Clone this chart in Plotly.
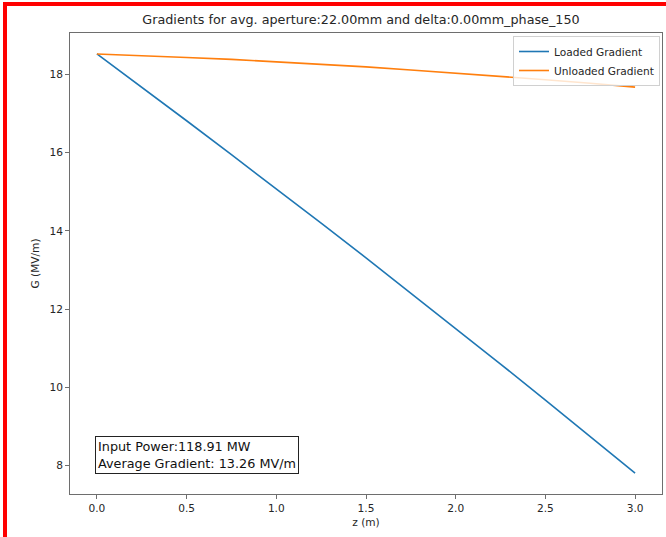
import plotly.graph_objects as go

# Position along the structure (m)
z = [0.0, 0.25, 0.5, 0.75, 1.0, 1.25, 1.5, 1.75, 2.0, 2.25, 2.5, 2.75, 3.0]

# Accelerating gradient with and without beam loading (MV/m)
loaded_gradient = [18.53, 17.68, 16.82, 15.95, 15.08, 14.20, 13.31,
                   12.41, 11.50, 10.59, 9.67, 8.74, 7.80]
unloaded_gradient = [18.53, 18.49, 18.44, 18.39, 18.33, 18.26, 18.20,
                     18.12, 18.04, 17.96, 17.87, 17.78, 17.68]

input_power_mw = 118.91
average_gradient = 13.26
aperture_mm = 22.00
delta_mm = 0.00
phase = 150

x_ticks = [0.0, 0.5, 1.0, 1.5, 2.0, 2.5, 3.0]
y_ticks = [8, 10, 12, 14, 16, 18]

W, H = 666, 537
L, R, T, B = 70, 4, 33, 43
pw, ph = W - L - R, H - T - B


def px(x):
    return (x - L) / pw


def py(y):
    return (H - B - y) / ph


FONT = "DejaVu Sans"
AXIS_COL = "#6e6e6e"
TEXT_COL = "#262626"
SMALL = 10.6

fig = go.Figure()
fig.add_trace(go.Scatter(x=z, y=loaded_gradient, mode="lines",
                         name="Loaded Gradient",
                         line=dict(color="#1f77b4", width=1.6)))
fig.add_trace(go.Scatter(x=z, y=unloaded_gradient, mode="lines",
                         name="Unloaded Gradient",
                         line=dict(color="#ff7f0e", width=1.6)))

lo = min(min(loaded_gradient), min(unloaded_gradient))
hi = max(max(loaded_gradient), max(unloaded_gradient))
pad_y = 0.05 * (hi - lo)
pad_x = 0.05 * (max(z) - min(z))

axis_common = dict(showgrid=False, zeroline=False, showline=True, mirror=True,
                   linecolor=AXIS_COL, linewidth=1, ticks="outside", ticklen=4,
                   tickcolor=AXIS_COL, tickfont=dict(size=SMALL, color=TEXT_COL,
                                                     family=FONT))

fig.update_xaxes(range=[min(z) - pad_x, max(z) + pad_x], tickvals=x_ticks,
                 ticktext=[f"{v:.1f}" for v in x_ticks],
                 title=dict(text="z (m)", font=dict(size=SMALL, color=TEXT_COL,
                                                    family=FONT), standoff=5),
                 **axis_common)
fig.update_yaxes(range=[lo - pad_y, hi + pad_y], tickvals=y_ticks,
                 title=dict(text="G (MV/m)", font=dict(size=SMALL, color=TEXT_COL,
                                                       family=FONT), standoff=7),
                 **axis_common)

fig.add_annotation(
    xref="paper", yref="paper", x=px(95), y=py(474),
    xanchor="left", yanchor="bottom", align="left", showarrow=False,
    text=f"Input Power:{input_power_mw:.2f} MW<br>"
         f"Average Gradient: {average_gradient:.2f} MV/m",
    font=dict(size=12.8, color="#111", family=FONT),
    bordercolor="#222", borderwidth=1, borderpad=2, bgcolor="white")

# red frame along the top and left edges
red = dict(type="rect", xref="paper", yref="paper", fillcolor="#ff0000",
           line=dict(width=0), layer="above")
fig.add_shape(x0=px(3), x1=px(7), y0=py(H), y1=py(2), **red)
fig.add_shape(x0=px(3), x1=px(W), y0=py(6), y1=py(2), **red)

fig.update_layout(
    width=W, height=H,
    margin=dict(l=L, r=R, t=T, b=B),
    paper_bgcolor="white", plot_bgcolor="white",
    font=dict(family=FONT, color=TEXT_COL),
    title=dict(text=f"Gradients for avg. aperture:{aperture_mm:.2f}mm and "
                    f"delta:{delta_mm:.2f}mm_phase_{phase}",
               x=px(361), xref="paper", xanchor="center",
               y=1 - 20 / H, yanchor="middle",
               font=dict(size=12.75, color=TEXT_COL, family=FONT)),
    legend=dict(x=px(660), y=py(36), xanchor="right", yanchor="top",
                bordercolor="#d0d0d0", borderwidth=1,
                bgcolor="rgba(255,255,255,0.8)",
                font=dict(size=SMALL, color=TEXT_COL, family=FONT),
                tracegroupgap=0, itemwidth=30),
    showlegend=True,
)

fig.write_html("out.html")
